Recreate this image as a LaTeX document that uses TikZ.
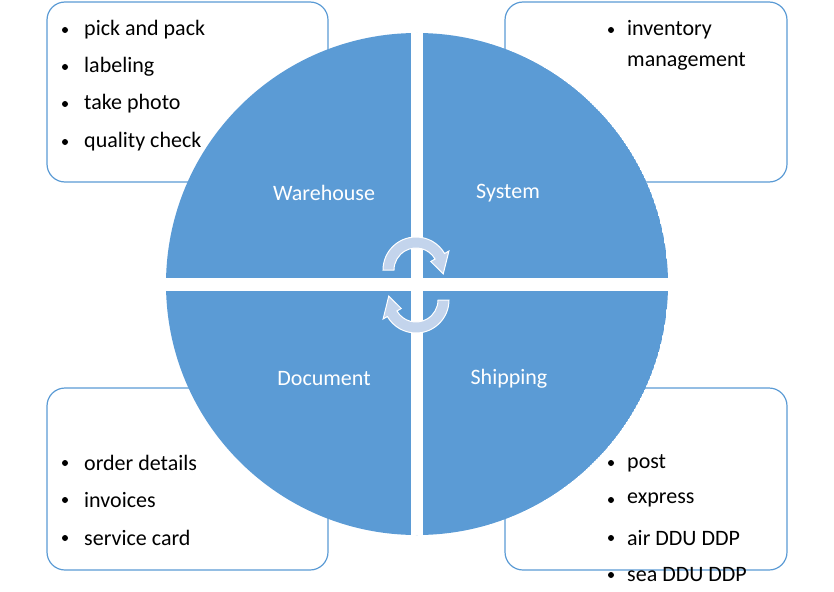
\documentclass[tikz,border=0pt]{standalone}
\usepackage{fontspec}
\usetikzlibrary{calc}
\setmainfont{Carlito}
\definecolor{qblue}{HTML}{5B9BD5}
\definecolor{lblue}{HTML}{C3D4EC}
\begin{document}
\begin{tikzpicture}[x=1pt,y=-1pt,
  box/.style={draw=qblue,line width=1.2pt,fill=white,rounded corners=18pt},
  lab/.style={text=white,font=\fontsize{22}{26}\selectfont,anchor=center},
  itm/.style={font=\fontsize{22}{26}\selectfont,anchor=west,inner sep=0pt},
  bul/.style={circle,fill=black,inner sep=0pt,minimum size=6pt},
  arr/.style={fill=lblue,draw=white,line width=1pt}]
\useasboundingbox (0,0) rectangle (834,591);
\draw[box] (47,2) rectangle (328,182);
\draw[box] (505,2) rectangle (787,182);
\draw[box] (47,388) rectangle (328,570);
\draw[box] (505,388) rectangle (787,570);
\foreach \t/\y [count=\i] in {pick and pack/30,labeling/67,take photo/104,quality check/142}
  {\node[bul] (tlb\i) at (65,\y) {}; \node[itm] (tl\i) at (84,\y) {\t};}
\node[bul] (trb1) at (611,30) {}; \node[itm] (tr1) at (627,30) {inventory};
\node[itm] (tr2) at (627,61) {management};
\foreach \t/\y [count=\i] in {order details/463,invoices/500,service card/538}
  {\node[bul] (blb\i) at (65,\y) {}; \node[itm] (bl\i) at (84,\y) {\t};}
\foreach \t/\y [count=\i] in {post/463,express/500,air DDU DDP/538,sea DDU DDP/575}
  {\node[bul] (brb\i) at (611,\y) {}; \node[itm] (br\i) at (627,\y) {\t};}
\begin{scope}
\clip (417,284) circle (251);
\fill[qblue] (417,284) circle (251);
\fill[white] (411,0) rectangle (423,591);
\fill[white] (0,278) rectangle (834,291);
\end{scope}
\node[lab] (wh) at (324,193) {Warehouse};
\node[lab] (sy) at (508,193) {System};
\node[lab] (do) at (324,379) {Document};
\node[lab] (sh) at (509,379) {Shipping};
% cycle arrows
\path[arr] (416,270) ++(180:33) arc[start angle=180,end angle=330,radius=33]
  -- ($(416,270)+(330:38)$) -- ($(416,270)+(8:27.5)$) -- ($(416,270)+(330:17)$)
  -- ($(416,270)+(330:22)$) arc[start angle=330,end angle=180,radius=22] -- cycle;
\path[arr] (416,300) ++(0:33) arc[start angle=0,end angle=150,radius=33]
  -- ($(416,300)+(150:38)$) -- ($(416,300)+(188:27.5)$) -- ($(416,300)+(150:17)$)
  -- ($(416,300)+(150:22)$) arc[start angle=150,end angle=0,radius=22] -- cycle;
\end{tikzpicture}
\end{document}
